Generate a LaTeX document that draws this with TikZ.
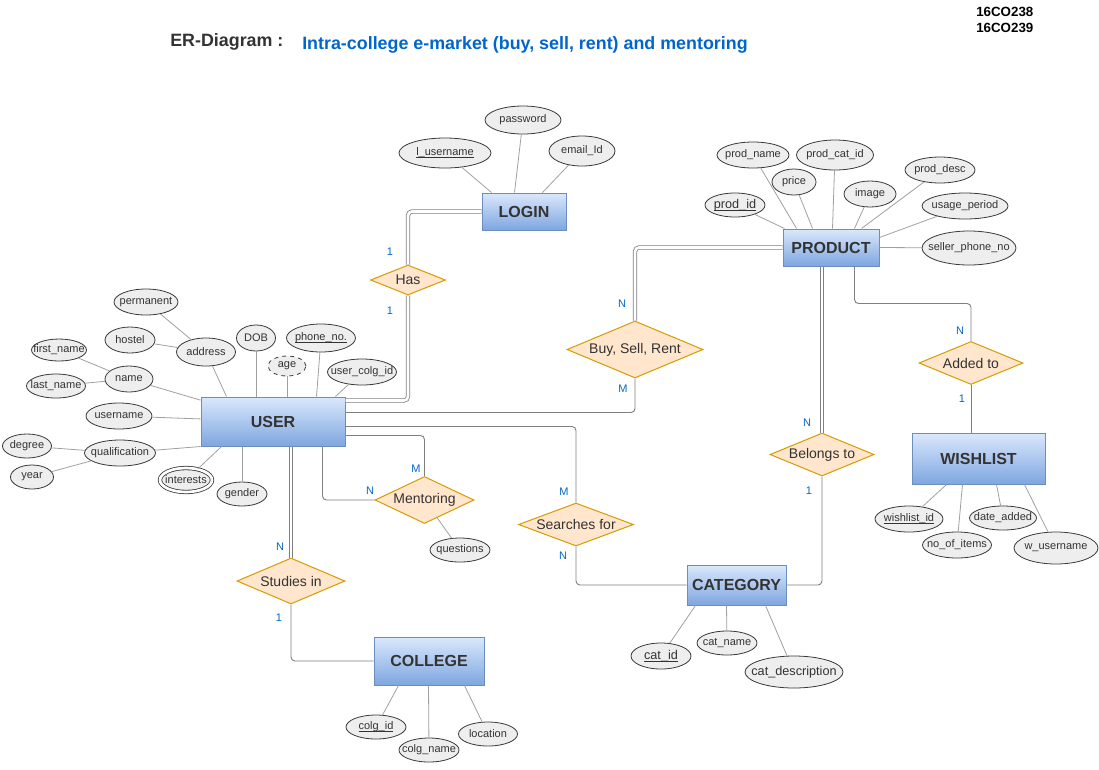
\documentclass[tikz,border=0pt]{standalone}
\usepackage{fontspec}
\setmainfont{Liberation Sans}
\usetikzlibrary{shapes.geometric, calc}

\definecolor{entborder}{HTML}{6C8EBF}
\definecolor{enttop}{HTML}{DAE8FC}
\definecolor{entbottom}{HTML}{7EA6E0}
\definecolor{relfill}{HTML}{FFE6CC}
\definecolor{relborder}{HTML}{D79B00}
\definecolor{attrfill}{HTML}{EEEEEE}
\definecolor{attrborder}{HTML}{36393D}
\definecolor{linkgray}{HTML}{808080}
\definecolor{attrgray}{HTML}{A0A0A0}
\definecolor{cardblue}{HTML}{0066CC}
\definecolor{textgray}{HTML}{333333}

\newcommand{\keyattr}[1]{\underline{\smash{#1}}\vphantom{#1}}

\tikzstyle{fixed} = [execute at begin node={\hbox to 0pt\bgroup\hss}, execute at end node={\hss\egroup}]
\tikzstyle{entity} = [rectangle, draw=entborder, line width=0.75pt, top color=enttop, bottom color=entbottom, text=textgray, font=\fontsize{12}{14}\selectfont\bfseries]
\tikzstyle{relation} = [diamond, draw=relborder, line width=0.75pt, fill=relfill, inner sep=0pt, text=textgray, font=\fontsize{10.5}{12}\selectfont, fixed]
\tikzstyle{attr} = [ellipse, draw=attrborder, line width=0.6pt, fill=attrfill, inner sep=0pt, text=textgray, font=\fontsize{8.25}{10}\selectfont, fixed]
\tikzstyle{bigattr} = [attr, font=\fontsize{9.5}{11}\selectfont]
\tikzstyle{attrline} = [draw=attrgray, line width=0.6pt]
\tikzstyle{relline} = [draw=linkgray, line width=0.7pt, rounded corners=3pt]
\tikzstyle{dblline} = [draw=linkgray, line width=0.6pt, double=white, double distance=2pt, rounded corners=3pt]
\tikzstyle{card} = [text=cardblue, font=\fontsize{8.25}{10}\selectfont, inner sep=0pt]
\tikzstyle{heading} = [anchor=west, inner sep=0pt, font=\fontsize{13.4}{15}\selectfont\bfseries]

\begin{document}
\begin{tikzpicture}[x=0.75pt, y=-0.75pt]
\useasboundingbox (0,0) rectangle (1099,769);

% title
\node (title) [heading, text=textgray] at (170,42) {ER-Diagram :};
\node (subject) [heading, text=cardblue] at (302,45) {Intra-college e-market (buy, sell, rent) and mentoring};
\node (roll1) [anchor=west, inner sep=0pt, font=\fontsize{10}{11}\selectfont\bfseries] at (976,12) {16CO238};
\node (roll2) [anchor=west, inner sep=0pt, font=\fontsize{10}{11}\selectfont\bfseries] at (976,28) {16CO239};

% entities
\node (login) [entity, minimum width=63pt, minimum height=27.75pt] at (524,211.5) {LOGIN};
\node (product) [entity, minimum width=72pt, minimum height=27.75pt] at (831,247.5) {PRODUCT};
\node (user) [entity, minimum width=108pt, minimum height=36.75pt] at (273,421.5) {USER};
\node (wishlist) [entity, minimum width=99.75pt, minimum height=38.25pt] at (978.5,458.5) {WISHLIST};
\node (category) [entity, minimum width=74.25pt, minimum height=30pt] at (736.5,585) {CATEGORY};
\node (college) [entity, minimum width=82.5pt, minimum height=36pt] at (429,661) {COLLEGE};

% relationships
\node (has) [relation, minimum width=56.25pt, minimum height=22.5pt] at (408,280) {Has};
\node (bsr) [relation, minimum width=102pt, minimum height=42.75pt] at (635,349.5) {Buy, Sell, Rent};
\node (added) [relation, minimum width=78pt, minimum height=32.25pt] at (971,363) {Added to};
\node (belongs) [relation, minimum width=78pt, minimum height=32.25pt] at (822,454.5) {Belongs to};
\node (mentor) [relation, minimum width=74.25pt, minimum height=35.25pt] at (424.5,500) {Mentoring};
\node (search) [relation, minimum width=86.25pt, minimum height=32.25pt] at (576,524.5) {Searches for};
\node (studies) [relation, minimum width=81pt, minimum height=34.5pt] at (291,581) {Studies in};

% login attributes
\node (lusername) [attr, minimum width=69pt, minimum height=22.5pt] at (445,153) {\keyattr{l\_username}};
\node (password) [attr, minimum width=57pt, minimum height=21pt] at (523,120) {password};
\node (emailid) [attr, minimum width=49.5pt, minimum height=22.5pt] at (582,151) {email\_Id};

% product attributes
\node (prodid) [bigattr, minimum width=45pt, minimum height=18pt] at (735,205) {\keyattr{prod\_id}};
\node (prodname) [attr, minimum width=54pt, minimum height=19.5pt] at (753,155) {prod\_name};
\node (price) [attr, minimum width=33pt, minimum height=19.5pt] at (794,182) {price};
\node (prodcatid) [attr, minimum width=57.75pt, minimum height=22.5pt] at (835,155) {prod\_cat\_id};
\node (image) [attr, minimum width=39pt, minimum height=19.5pt] at (870,194) {image};
\node (proddesc) [attr, minimum width=52.5pt, minimum height=19.5pt] at (940,170) {prod\_desc};
\node (usage) [attr, minimum width=64.5pt, minimum height=19.5pt] at (965,206) {usage\_period};
\node (sellerphone) [attr, minimum width=70.5pt, minimum height=25.5pt] at (969,248) {seller\_phone\_no};

% user attributes
\node (permanent) [attr, minimum width=48pt, minimum height=19.5pt] at (146,302) {permanent};
\node (hostel) [attr, minimum width=37.5pt, minimum height=19.5pt] at (130,340) {hostel};
\node (address) [attr, minimum width=44.25pt, minimum height=21pt] at (206,352) {address};
\node (dob) [attr, minimum width=29.25pt, minimum height=19.5pt] at (256,338) {DOB};
\node (phone) [attr, minimum width=51.75pt, minimum height=21pt] at (321,338) {\keyattr{phone\_no.}};
\node (age) [attr, dashed, minimum width=28.5pt, minimum height=15pt] at (287,366) {age};
\node (usercolg) [attr, minimum width=51.75pt, minimum height=19.5pt] at (362,372) {user\_colg\_id};
\node (firstname) [attr, minimum width=41.25pt, minimum height=16.5pt] at (59,350) {first\_name};
\node (lastname) [attr, minimum width=44.25pt, minimum height=18pt] at (56,386) {last\_name};
\node (name) [attr, minimum width=36pt, minimum height=19.5pt] at (129,379) {name};
\node (username) [attr, minimum width=49.5pt, minimum height=19.5pt] at (119,416) {username};
\node (degree) [attr, minimum width=36.75pt, minimum height=18pt] at (27,446) {degree};
\node (qualification) [attr, minimum width=53.25pt, minimum height=19.5pt] at (120,453) {qualification};
\node (year) [attr, minimum width=32.25pt, minimum height=18pt] at (32,477) {year};
\node (interests) [attr, double=white, double distance=2pt, minimum width=39pt, minimum height=18pt] at (186,480) {interests};
\node (gender) [attr, minimum width=37.5pt, minimum height=18pt] at (242,494) {gender};
\node (questions) [attr, minimum width=45pt, minimum height=18pt] at (460,550) {questions};

% wishlist attributes
\node (wishid) [attr, minimum width=51pt, minimum height=19.5pt] at (909,519) {\keyattr{wishlist\_id}};
\node (noitems) [attr, minimum width=51.75pt, minimum height=19.5pt] at (957,545) {no\_of\_items};
\node (dateadded) [attr, minimum width=50.25pt, minimum height=18pt] at (1003,518) {date\_added};
\node (wusername) [attr, minimum width=63pt, minimum height=24pt] at (1056,548) {w\_username};

% category attributes
\node (catid) [bigattr, minimum width=45pt, minimum height=19.5pt] at (661,656) {\keyattr{cat\_id}};
\node (catname) [attr, minimum width=45pt, minimum height=18pt] at (727,643) {cat\_name};
\node (catdesc) [bigattr, minimum width=73.5pt, minimum height=24pt] at (794,672) {cat\_description};

% college attributes
\node (colgid) [attr, minimum width=45pt, minimum height=18pt] at (376,727) {\keyattr{colg\_id}};
\node (colgname) [attr, minimum width=45pt, minimum height=18pt] at (429,750) {colg\_name};
\node (location) [attr, minimum width=44.25pt, minimum height=18pt] at (488,734) {location};

% attribute links
\draw [attrline] (lusername) -- ($(login.north west)+(10,0)$);
\draw [attrline] (password) -- ($(login.north west)+(33,0)$);
\draw [attrline] (emailid) -- ($(login.north west)+(61,0)$);

\draw [attrline] (prodid) -- ($(product.north west)+(2,0)$);
\draw [attrline] (prodname) -- ($(product.north west)+(14,0)$);
\draw [attrline] (price) -- ($(product.north west)+(30,0)$);
\draw [attrline] (prodcatid) -- ($(product.north west)+(50,0)$);
\draw [attrline] (image) -- ($(product.north west)+(72,0)$);
\draw [attrline] (proddesc) -- ($(product.north west)+(79,0)$);
\draw [attrline] (usage) -- ($(product.east)+(0,-10)$);
\draw [attrline] (sellerphone) -- (product.east);

\draw [attrline] (permanent) -- (address);
\draw [attrline] (hostel) -- (address);
\draw [attrline] (address) -- ($(user.north west)+(26,0)$);
\draw [attrline] (dob) -- (dob |- user.north);
\draw [attrline] (age) -- (age |- user.north);
\draw [attrline] (phone) -- ($(user.north west)+(116,0)$);
\draw [attrline] (usercolg) -- ($(user.north east)+(-10,0)$);
\draw [attrline] (firstname) -- (name);
\draw [attrline] (lastname) -- (name);
\draw [attrline] (name) -- (user);
\draw [attrline] (username) -- (user);
\draw [attrline] (degree) -- (qualification);
\draw [attrline] (year) -- (qualification);
\draw [attrline] (qualification) -- (user.south west);
\draw [attrline] (interests) -- ($(user.south west)+(21,0)$);
\draw [attrline] (gender) -- (gender |- user.south);
\draw [attrline] (questions) -- (mentor);

\draw [attrline] (wishid) -- ($(wishlist.south west)+(35,0)$);
\draw [attrline] (noitems) -- ($(wishlist.south west)+(51,0)$);
\draw [attrline] (dateadded) -- ($(wishlist.south west)+(85,0)$);
\draw [attrline] (wusername) -- ($(wishlist.south west)+(113,0)$);

\draw [attrline] (catid) -- ($(category.south west)+(9,0)$);
\draw [attrline] (catname) -- ($(category.south west)+(40,0)$);
\draw [attrline] (catdesc) -- ($(category.south west)+(79,0)$);

\draw [attrline] (colgid) -- ($(college.south west)+(25,0)$);
\draw [attrline] (colgname) -- ($(college.south west)+(55,0)$);
\draw [attrline] (location) -- ($(college.south west)+(91,0)$);

% relationship links
\draw [dblline] ($(user.north east)+(0,4)$) -| (has.south);
\draw [dblline] (has.north) |- (login.west);
\draw [relline] ($(user.north east)+(0,16)$) -| (bsr.south);
\draw [dblline] (bsr.north) |- (product.west);
\draw [relline] ($(user.north east)+(0,30)$) -| (search.north);
\draw [relline] (search.south) |- (category.west);
\draw [relline] ($(user.north east)+(0,39)$) -| (mentor.north);
\draw [relline] ($(user.south west)+(122,0)$) |- (mentor.west);
\draw [dblline] (studies.north |- user.south) -- (studies.north);
\draw [relline] (studies.south) |- (college.west);
\draw [dblline] (belongs.north |- product.south) -- (belongs.north);
\draw [relline] (belongs.south) |- (category.east);
\draw [relline] ($(product.south west)+(72,0)$) -- ++(0,37) -| (added.north);
\draw [relline] (added.south) -- (added.south |- wishlist.north);

% cardinalities
\node (hasup) [card] at (390,252) {1};
\node (haslow) [card] at (390,311) {1};
\node (bsrup) [card] at (622,304) {N};
\node (bsrlow) [card] at (623,389) {M};
\node (belup) [card] at (807,423) {N};
\node (bellow) [card] at (809,491) {1};
\node (addup) [card] at (960,331) {N};
\node (addlow) [card] at (962,399) {1};
\node (menup) [card] at (416,469) {M};
\node (menleft) [card] at (370,491) {N};
\node (serup) [card] at (564,492) {M};
\node (serlow) [card] at (563,556) {N};
\node (stuup) [card] at (280,547) {N};
\node (stulow) [card] at (279,618) {1};

\end{tikzpicture}
\end{document}
